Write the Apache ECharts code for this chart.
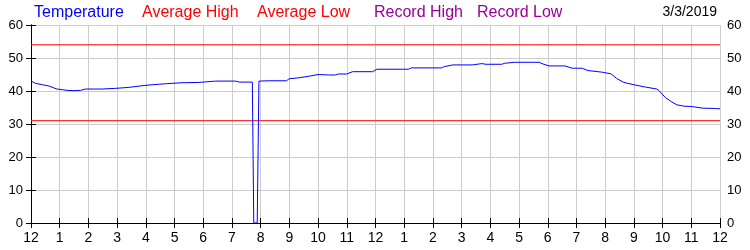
<!DOCTYPE html>
<html><head><meta charset="utf-8">
<script src="https://cdn.jsdelivr.net/npm/echarts@6/dist/echarts.min.js"></script>
<style>html,body{margin:0;padding:0;background:#fff}#c{width:750px;height:250px}</style>
</head><body><div id="c"></div>
<script>
const xTickLabels = ['12','1','2','3','4','5','6','7','8','9','10','11','12','1','2','3','4','5','6','7','8','9','10','11','12'];
const yTickLabels = ['0','10','20','30','40','50','60'];
const hours = [0,0.16,0.4,0.63,0.9,1.1,1.25,1.5,1.73,1.9,2.2,2.48,2.95,3.41,3.87,4.22,4.69,5.26,5.85,6.43,7.13,7.25,7.71,7.76,7.88,7.94,8.3,8.9,8.99,9.33,9.7,10.0,10.4,10.6,10.7,11.0,11.2,11.9,12.05,13.15,13.25,14.3,14.4,14.7,15.37,15.7,15.85,16.4,16.5,16.85,17.7,17.8,18.04,18.6,18.85,19.2,19.4,19.9,20.2,20.4,20.65,21.0,21.4,21.8,21.9,22.1,22.3,22.5,22.75,23.0,23.4,23.85,24];
const temps = [43.0,42.3,41.9,41.5,40.6,40.4,40.2,40.1,40.2,40.6,40.6,40.6,40.8,41.1,41.6,41.9,42.2,42.5,42.6,43.0,43.0,42.7,42.7,0,0,43.0,43.1,43.1,43.7,44.0,44.5,45.0,44.85,44.85,45.15,45.15,45.85,45.85,46.6,46.6,47.0,47.0,47.4,47.9,47.9,48.3,48.1,48.1,48.4,48.7,48.7,48.3,47.6,47.6,46.9,46.9,46.2,45.7,45.2,43.8,42.6,41.9,41.2,40.6,39.9,38.0,36.8,35.8,35.4,35.3,34.8,34.7,34.6];
const avgHigh = 54;
const avgLow = 31;
const legendNames = ['Temperature','Average High','Average Low','Record High','Record Low'];
const dateText = '3/3/2019';

const FONT = "'Liberation Sans', Arial, sans-serif";
const chart = echarts.init(document.getElementById('c'), null, {renderer:'canvas'});
const tempData = hours.map((h,i)=>[h,temps[i]]);
const legendColors = ['#0000ff','#ff0000','#ff0000','#990099','#990099'];
const legendX = [34,142,257,374,477];
const graphics = legendNames.map((n,i)=>({type:'text',left:legendX[i],top:5,style:{text:n,fill:legendColors[i],font:'16px '+FONT}}));
graphics.push({type:'text',right:33,top:5,style:{text:dateText,fill:'#000',font:'14px '+FONT}});

const axisCommon = {
  axisLine:{show:true,lineStyle:{color:'#000',width:1}},
  axisTick:{show:true,inside:true,length:5,lineStyle:{color:'#000'}}
};
chart.setOption({
  animation:false,
  backgroundColor:'#fff',
  grid:{left:31,right:30,top:25,height:198},
  graphic:graphics,
  xAxis:[
    Object.assign({type:'value',min:0,max:24,interval:1,position:'bottom',
      axisLabel:{color:'#000',fontSize:14,fontFamily:FONT,margin:8,formatter:(v)=>xTickLabels[Math.round(v)]},
      splitLine:{show:true,lineStyle:{color:'#cccccc',width:1}}},axisCommon),
    Object.assign({type:'value',min:0,max:24,interval:1,position:'top',
      axisLabel:{show:false},splitLine:{show:false}},axisCommon)
  ],
  yAxis:[
    Object.assign({type:'value',min:0,max:60,interval:10,position:'left',
      axisLabel:{color:'#000',fontSize:13,fontFamily:FONT,margin:8,formatter:(v)=>yTickLabels[Math.round(v/10)]},
      splitLine:{show:true,lineStyle:{color:'#cccccc',width:1}}},axisCommon),
    Object.assign({type:'value',min:0,max:60,interval:10,position:'right',
      axisLabel:{color:'#000',fontSize:13,fontFamily:FONT,margin:7,formatter:(v)=>yTickLabels[Math.round(v/10)]},
      splitLine:{show:false}},axisCommon)
  ],
  series:[
    {name:'Average High',type:'line',data:[[0,avgHigh],[24,avgHigh]],symbol:'none',lineStyle:{color:'#ff0000',width:1},z:3},
    {name:'Average Low',type:'line',data:[[0,avgLow],[24,avgLow]],symbol:'none',lineStyle:{color:'#ff0000',width:1},z:3},
    {name:'Temperature',type:'line',data:tempData,symbol:'none',lineStyle:{color:'#0000ff',width:1},z:4}
  ]
});
</script></body></html>
